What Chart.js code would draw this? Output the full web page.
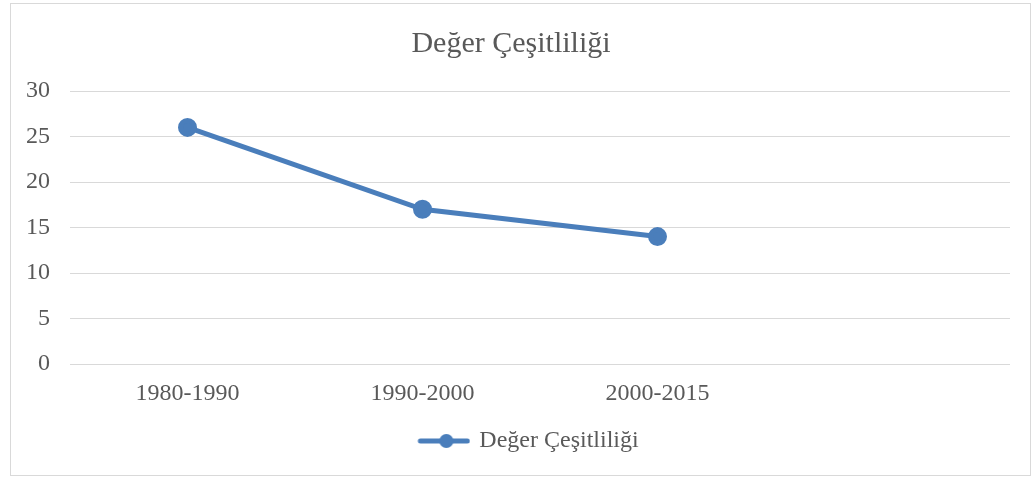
<!DOCTYPE html>
<html>
<head>
<meta charset="utf-8">
<script src="https://cdn.jsdelivr.net/npm/chart.js@4/dist/chart.umd.min.js"></script>
<style>
  html, body { margin: 0; padding: 0; background: #ffffff; }
  #frame { position: absolute; left: 10px; top: 3px; width: 1021px; height: 473px; border: 1px solid #d9d9d9; box-sizing: border-box; background: #fff; }
  #wrap { position: absolute; left: 1px; top: 1px; width: 1019px; height: 471px; }
</style>
</head>
<body>
<div id="frame"><div id="wrap"><canvas id="c"></canvas></div></div>
<script>
const categories = ['1980-1990', '1990-2000', '2000-2015', ''];
const seriesName = 'Değer Çeşitliliği';
const seriesValues = [26, 17, 14, null];
const chartTitle = 'Değer Çeşitliliği';

const lineColor = '#4a7ebb';
const textColor = '#595959';
const fontFamily = '"Liberation Serif", "Times New Roman", serif';

// legend marker: line with a dot (transparent left margin to centre the legend like the reference)
const mk = document.createElement('canvas');
mk.width = 90; mk.height = 16;
(function(){
  const g = mk.getContext('2d');
  g.strokeStyle = lineColor; g.lineWidth = 5; g.lineCap = 'round';
  g.beginPath(); g.moveTo(40, 8); g.lineTo(87, 8); g.stroke();
  g.fillStyle = lineColor;
  g.beginPath(); g.arc(66, 8, 7, 0, Math.PI * 2); g.fill();
})();

new Chart(document.getElementById('c'), {
  type: 'line',
  data: {
    labels: categories,
    datasets: [{
      label: seriesName,
      data: seriesValues,
      borderColor: lineColor,
      backgroundColor: lineColor,
      borderWidth: 5,
      pointRadius: 7,
      pointHoverRadius: 7,
      pointBackgroundColor: lineColor,
      pointBorderColor: lineColor,
      pointStyle: 'circle',
      tension: 0,
      spanGaps: false
    }]
  },
  options: {
    responsive: true,
    maintainAspectRatio: false,
    animation: false,
    layout: { padding: { left: 0, right: 21, top: 0, bottom: 13 } },
    plugins: {
      title: {
        display: true,
        text: chartTitle,
        color: textColor,
        font: { family: fontFamily, size: 30, weight: 'normal' },
        padding: { top: 21, bottom: 29 }
      },
      legend: {
        display: true,
        position: 'bottom',
        labels: {
          color: textColor,
          font: { family: fontFamily, size: 24 },
          usePointStyle: true,
          pointStyleWidth: 84,
          boxHeight: 16,
          padding: 10,
          generateLabels: (chart) => chart.data.datasets.map((ds, i) => ({
            text: ds.label,
            fillStyle: lineColor,
            strokeStyle: lineColor,
            lineWidth: 0,
            pointStyle: mk,
            fontColor: textColor,
            hidden: false,
            datasetIndex: i
          }))
        }
      },
      tooltip: { enabled: false }
    },
    scales: {
      x: {
        offset: true,
        grid: { display: false, drawTicks: false },
        border: { display: false },
        ticks: { color: textColor, font: { family: fontFamily, size: 24 }, padding: 15, maxRotation: 0, autoSkip: false },
        afterFit: (s) => { s.height = 55; }
      },
      y: {
        min: 0, max: 30,
        grid: { color: '#d9d9d9', lineWidth: 1, drawTicks: false },
        border: { display: false },
        ticks: { stepSize: 5, color: textColor, font: { family: fontFamily, size: 24 }, padding: 20 },
        afterFit: (s) => { s.width = 58; }
      }
    }
  }
});
</script>
</body>
</html>
